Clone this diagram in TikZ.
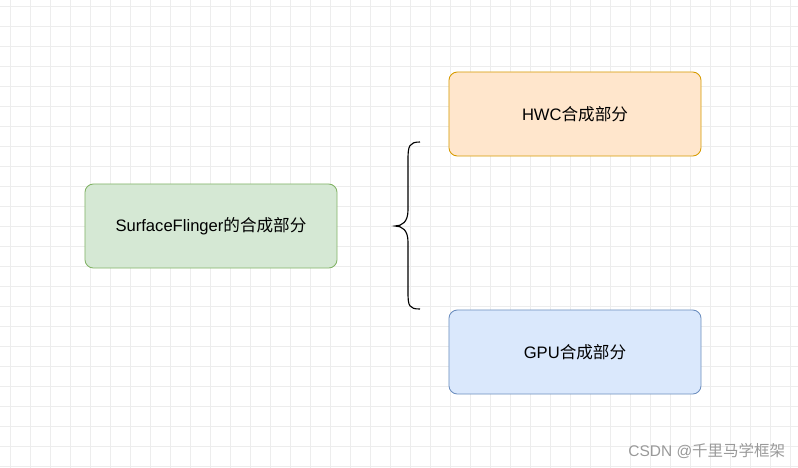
\documentclass[tikz,border=0pt]{standalone}
\usepackage{fontspec}
\setmainfont{Liberation Sans}
\newfontfamily\cjk{Noto Sans CJK SC}
\usetikzlibrary{positioning}
\definecolor{gridgray}{HTML}{EDEDED}
\definecolor{greenfill}{HTML}{D5E8D4}
\definecolor{greenline}{HTML}{82B366}
\definecolor{orangefill}{HTML}{FFE6CC}
\definecolor{orangeline}{HTML}{D79B00}
\definecolor{bluefill}{HTML}{DAE8FC}
\definecolor{blueline}{HTML}{6C8EBF}
\tikzset{
  part/.style={draw, rounded corners=6pt, minimum width=6.3cm, minimum height=2.1cm,
    font=\fontsize{11.8}{14}\selectfont, line width=0.6pt}
}
\begin{document}
\begin{tikzpicture}[x=0.025cm, y=-0.025cm]
    % Hintergrund
    \useasboundingbox (0,0) rectangle (798,468);
    \fill[white] (0,0) rectangle (798,468);
    \foreach \i in {0,20,...,780} \draw[gridgray, line width=0.3pt] (\i+10,0) -- (\i+10,468);
    \foreach \j in {0,20,...,460} \draw[gridgray, line width=0.3pt] (0,\j+6) -- (798,\j+6);
    % Kästen
    \node[part, fill=greenfill, draw=greenline] (sf) at (211,226) {SurfaceFlinger{\cjk 的合成部分}};
    \node[part, fill=orangefill, draw=orangeline] (hwc) at (575,114) {HWC{\cjk 合成部分}};
    \node[part, fill=bluefill, draw=blueline] (gpu) at (575,352) {GPU{\cjk 合成部分}};
    % Klammer
    \draw[line width=0.8pt] (420,142) .. controls (409,142) and (408,146) .. (408,160)
        -- (408,210) .. controls (408,222) and (402,226) .. (395,226)
        .. controls (402,226) and (408,230) .. (408,242)
        -- (408,292) .. controls (408,306) and (409,309) .. (420,309);
    % Wasserzeichen
    \node[gray!80, font=\fontsize{11}{13}\selectfont, anchor=east] (wm) at (790,451) {CSDN @{\cjk 千里马学框架}};
\end{tikzpicture}
\end{document}
